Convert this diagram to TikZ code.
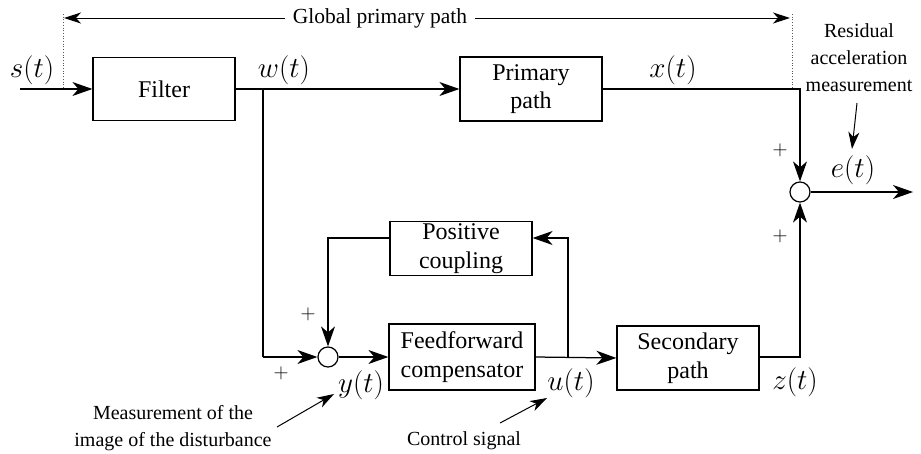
\documentclass[tikz,border=0pt]{standalone}
\usepackage{graphicx}
\usepackage{fontspec}
\setmainfont{Liberation Serif}
\usetikzlibrary{arrows.meta}
\newcommand{\mlab}[1]{\scalebox{1.17}{$#1$}}
\tikzset{
  blk/.style={draw, line width=1.2pt, minimum width=142pt, minimum height=64pt, align=center, inner sep=2pt, font=\fontsize{24}{28.5}\selectfont},
  sumc/.style={circle, draw, line width=1.2pt, minimum size=20pt, inner sep=0pt},
  sig/.style={line width=1.25pt, -{Stealth[length=20pt,width=14pt,inset=6pt]}},
  wire/.style={line width=1.25pt},
  note/.style={line width=1pt, -{Stealth[length=17pt,width=11pt,inset=5pt]}},
  lab/.style={inner sep=0pt, font=\fontsize{24.88}{28}\selectfont},
  anno/.style={align=center, inner sep=0pt, font=\fontsize{20}{27}\selectfont},
  pm/.style={inner sep=0pt, font=\fontsize{20}{24}\selectfont},
  dotln/.style={line width=0.7pt, dotted, gray!70!black}
}
\begin{document}
\begin{tikzpicture}[x=1pt,y=-1pt]
\useasboundingbox (0,0) rectangle (921,453);
% blocks
\node[blk, minimum height=63pt] (filter) at (164,89) {Filter};
\node[blk] (prim) at (531,89) {Primary\\path};
\node[blk, minimum height=45pt] (coup) at (461,248.5) {Positive\\coupling};
\node[blk, minimum width=146pt, minimum height=66pt] (ff) at (462,357) {Feedforward\\compensator};
\node[blk] (sec) at (688,358) {Secondary\\path};
\node[sumc] (s1) at (800,192) {};
\node[sumc] (s2) at (328,357) {};
% coordinates
\coordinate (in) at (20,89);
\coordinate (br) at (263,89);
\coordinate (brd) at (263,357);
\coordinate (ub) at (568,357);
\coordinate (ubt) at (568,238);
\coordinate (cpl) at (328,238);
\coordinate (pc) at (800,89);
\coordinate (zc) at (800,357);
\coordinate (out) at (913,192);
% signals
\draw[sig] (in) -- (filter.west);
\draw[sig] (filter.east) -- (prim.west);
\draw[wire] (br) -- (brd);
\draw[sig] (brd) -- (s2.west);
\draw[sig] (s2.east) -- (ff.west);
\draw[sig] (ff.east) -- (sec.west);
\draw[sig] (ub) -- (ubt) -- (coup.east |- ubt);
\draw[sig] (coup.west |- cpl) -- (cpl) -- (s2.north);
\draw[sig] (prim.east) -- (pc) -- (s1.north);
\draw[sig] (sec.east |- zc) -- (zc) -- (s1.south);
\draw[sig] (s1.east) -- (out);
% labels
\node[lab] (ls) at (32,70) {\mlab{s(t)}};
\node[lab] (lw) at (284,70) {\mlab{w(t)}};
\node[lab] (lx) at (673,70) {\mlab{x(t)}};
\node[lab] (le) at (853,170) {\mlab{e(t)}};
\node[lab] (ly) at (361,385) {\mlab{y(t)}};
\node[lab] (lu) at (571,383) {\mlab{u(t)}};
\node[lab] (lz) at (795,382) {\mlab{z(t)}};
\node[pm] (p1) at (780,150) {$+$};
\node[pm] (p2) at (780,236) {$+$};
\node[pm] (p3) at (308,314) {$+$};
\node[pm] (p4) at (281,373) {$+$};
% global primary path
\node[inner sep=0pt, font=\fontsize{21.5}{24}\selectfont] (gpp) at (380,18) {Global primary path};
\coordinate (gl) at (64,18);
\coordinate (gr) at (790,18);
\draw[note] ([xshift=-8pt]gpp.west) -- (gl);
\draw[note] ([xshift=8pt]gpp.east) -- (gr);
\coordinate (d1t) at (63,14);
\coordinate (d1b) at (63,88);
\coordinate (d2t) at (792,14);
\coordinate (d2b) at (792,88);
\draw[dotln] (d1t) -- (d1b);
\draw[dotln] (d2t) -- (d2b);
% annotations
\node[anno] (res) at (859,58) {Residual\\acceleration\\measurement};
\coordinate (resa) at (857,103);
\coordinate (resb) at (852,149);
\draw[note] (resa) -- (resb);
\node[anno] (meas) at (173,428) {Measurement of the\\image of the disturbance};
\coordinate (ma) at (277,427);
\coordinate (mb) at (334,394);
\draw[note] (ma) -- (mb);
\node[anno] (ctl) at (464,441) {Control signal};
\coordinate (ca) at (500,423);
\coordinate (cb) at (547,398);
\draw[note] (ca) -- (cb);
\end{tikzpicture}
\end{document}
